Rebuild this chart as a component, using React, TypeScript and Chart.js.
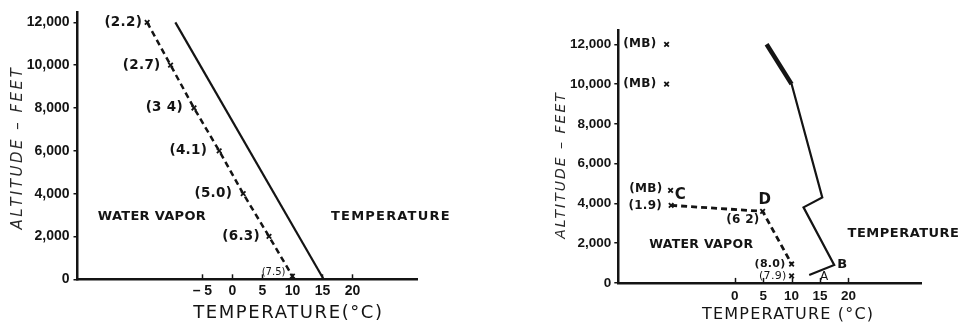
import React, { useEffect, useRef } from 'react';
import { Chart, registerables } from 'chart.js';

Chart.register(...registerables);

const INK = '#141414';
const TICK_FONT = 'Liberation Sans';
const LABEL_FONT = 'DejaVu Sans';

// ---------------- data ----------------
const altitudeTicks = [0, 2000, 4000, 6000, 8000, 10000, 12000];
const leftTempTicks = [-5, 0, 5, 10, 15, 20];
const rightTempTicks = [0, 5, 10, 15, 20];

// left figure
const leftVaporAltitudes = [12000, 10000, 8000, 6000, 4000, 2000, 150];
const leftVaporTemps = [-14.2, -10.3, -6.4, -2.2, 1.8, 6.1, 10.0];
const leftVaporLabels = ['(2.2)', '(2.7)', '(3 4)', '(4.1)', '(5.0)', '(6.3)', '(7.5)'];
const leftTempAltitudes = [12000, 0];
const leftTemps = [-9.5, 15.2];

// right figure
const rightTempAltitudes = [12000, 10000, 4300, 3800, 900, 400];
const rightTemps = [5.6, 10.0, 15.4, 12.1, 17.5, 13.1];
const rightVaporAltitudes = [3900, 3600, 950];
const rightVaporTemps = [-11.2, 4.9, 10.0];
const rightVaporLabels = ['(1.9)', '(6 2)', '(8.0)'];
const rightGroundVaporAltitudes = [350];
const rightGroundVaporTemps = [10.0];
const rightGroundVaporLabels = ['(7.9)'];
const mbAltitudes = [12000, 10000, 4650];
const mbTemps = [-12.0, -12.0, -11.3];
const mbLabels = ['(MB)', '(MB)', '(MB)'];

const toPoints = (xs: number[], ys: number[]) => xs.map((x, i) => ({ x, y: ys[i] }));

// ---------------- text plugin ----------------
const figTextPlugin = {
  id: 'figText',
  afterDraw(chart: any, _a: any, opts: any) {
    const { ctx } = chart;
    const xs = chart.scales.x;
    const ys = chart.scales.y;
    ctx.save();
    ctx.strokeStyle = INK;
    ctx.lineWidth = 1.5;
    for (const v of opts.xTicks || []) {
      const px = Math.round(xs.getPixelForValue(v)) + 0.5;
      ctx.beginPath();
      ctx.moveTo(px, xs.top);
      ctx.lineTo(px, xs.top - 5);
      ctx.stroke();
    }
    for (const it of opts.items || []) {
      ctx.save();
      ctx.font = it.font;
      ctx.fillStyle = it.color || INK;
      ctx.letterSpacing = `${it.ls || 0}px`;
      ctx.textAlign = it.align || 'center';
      ctx.textBaseline = 'middle';
      const px = xs.getPixelForValue(it.x) + (it.dx || 0);
      const py = ys.getPixelForValue(it.y) + (it.dy || 0);
      ctx.translate(px, py);
      if (it.rot) ctx.rotate(it.rot);
      ctx.fillText(it.text, 0, 0);
      ctx.restore();
    }
    ctx.restore();
  },
};

function buildOptions(p: any) {
  return {
    animation: false,
    responsive: false,
    maintainAspectRatio: false,
    events: [],
    layout: { padding: { left: 0, top: p.top, right: p.right, bottom: 0 } },
    plugins: {
      legend: { display: false },
      tooltip: { enabled: false },
      figText: { xTicks: p.xTicks, items: p.items },
    },
    scales: {
      x: {
        type: 'linear',
        position: 'bottom',
        min: p.xMin,
        max: p.xMax,
        afterBuildTicks: (s: any) => {
          s.ticks = p.xTicks.map((v: number) => ({ value: v }));
        },
        afterFit: (s: any) => {
          s.height = p.xHeight;
        },
        grid: { display: false, drawTicks: false, drawOnChartArea: false },
        border: { display: true, color: INK, width: 2.5 },
        ticks: {
          color: INK,
          font: { family: TICK_FONT, size: p.xTickSize, weight: 'bold' },
          padding: p.xPad,
          maxRotation: 0,
          autoSkip: false,
          callback: (v: number) => (v < 0 ? `– ${Math.abs(v)}` : `${v}`),
        },
      },
      y: {
        type: 'linear',
        min: 0,
        max: p.yMax,
        afterBuildTicks: (s: any) => {
          s.ticks = altitudeTicks.map((v) => ({ value: v }));
        },
        afterFit: (s: any) => {
          s.width = p.yWidth;
        },
        grid: { display: true, drawOnChartArea: false, drawTicks: true, tickLength: 4, color: INK, lineWidth: 1.5 },
        border: { display: true, color: INK, width: 2.5 },
        ticks: {
          color: INK,
          font: { family: TICK_FONT, size: p.yTickSize, weight: 'bold' },
          padding: p.yPad,
          callback: (v: number) => Number(v).toLocaleString('en-US'),
        },
      },
    },
  };
}

const crossStyle = {
  pointStyle: 'crossRot',
  pointRadius: 3.2,
  pointBorderWidth: 1.8,
  pointBorderColor: INK,
  pointBackgroundColor: INK,
};

function leftConfig(): any {
  const xMin = -25.8;
  const items: any[] = [];
  const dxs = [-5, -10, -11, -12, -11, -9, -7];
  leftVaporLabels.forEach((t, i) => {
    const last = i === leftVaporLabels.length - 1;
    items.push({
      text: t,
      x: leftVaporTemps[i],
      y: leftVaporAltitudes[i],
      dx: dxs[i],
      dy: last ? -4 : 0,
      align: 'right',
      font: last ? `10px ${LABEL_FONT}` : `bold 13.5px ${LABEL_FONT}`,
      ls: last ? 0 : 0.3,
    });
  });
  items.push({ text: 'WATER VAPOR', x: -13.4, y: 2930, font: `bold 13px ${LABEL_FONT}`, ls: 0.3 });
  items.push({ text: 'TEMPERATURE', x: 26.4, y: 2930, font: `bold 13px ${LABEL_FONT}`, ls: 1.2 });
  items.push({ text: 'TEMPERATURE(°C)', x: 9.33, y: 0, dy: 34, font: `18px ${LABEL_FONT}`, ls: 1.6 });
  items.push({
    text: 'ALTITUDE – FEET',
    x: xMin,
    y: 6150,
    dx: -59.2,
    rot: -Math.PI / 2,
    font: `italic 15px ${LABEL_FONT}`,
    ls: 2.5,
    color: '#2a2a2a',
  });
  return {
    type: 'scatter',
    data: {
      datasets: [
        {
          label: 'Temperature',
          data: toPoints(leftTemps, leftTempAltitudes),
          showLine: true,
          borderColor: INK,
          borderWidth: 2.2,
          pointRadius: 0,
          clip: false,
        },
        {
          label: 'Water vapor',
          data: toPoints(leftVaporTemps, leftVaporAltitudes),
          showLine: true,
          borderColor: INK,
          borderWidth: 2.5,
          borderDash: [6, 4],
          clip: false,
          ...crossStyle,
        },
      ],
    },
    options: buildOptions({
      top: 12.7,
      right: 62.7,
      xMin,
      xMax: 30.8,
      yMax: 12450,
      xHeight: 43.7,
      yWidth: 77.5,
      yPad: 4,
      xPad: 3,
      xTickSize: 14,
      yTickSize: 14,
      xTicks: leftTempTicks,
      items,
    }),
    plugins: [figTextPlugin],
  };
}

function rightConfig(): any {
  const xMin = -20.5;
  const items: any[] = [];
  mbLabels.forEach((t, i) => {
    items.push({
      text: t,
      x: mbTemps[i],
      y: mbAltitudes[i],
      dx: i === 2 ? -8 : -10,
      dy: i === 2 ? -2 : 0,
      align: 'right',
      font: `bold 12px ${LABEL_FONT}`,
      ls: 0.3,
    });
  });
  const vdx = [-9, -3, -6];
  const vdy = [1, 9, 0];
  rightVaporLabels.forEach((t, i) => {
    items.push({
      text: t,
      x: rightVaporTemps[i],
      y: rightVaporAltitudes[i],
      dx: vdx[i],
      dy: vdy[i],
      align: 'right',
      font: i === 2 ? `bold 11px ${LABEL_FONT}` : `bold 12px ${LABEL_FONT}`,
      ls: 0.3,
    });
  });
  rightGroundVaporLabels.forEach((t, i) => {
    items.push({
      text: t,
      x: rightGroundVaporTemps[i],
      y: rightGroundVaporAltitudes[i],
      dx: -5,
      align: 'right',
      font: `11px ${LABEL_FONT}`,
      ls: 0.3,
    });
  });
  items.push({ text: 'C', x: rightVaporTemps[0], y: rightVaporAltitudes[0], dx: 9, dy: -10, font: `bold 15px ${LABEL_FONT}` });
  items.push({ text: 'D', x: rightVaporTemps[1], y: rightVaporAltitudes[1], dx: 2, dy: -11, font: `bold 15px ${LABEL_FONT}` });
  items.push({ text: 'B', x: rightTemps[4], y: rightTempAltitudes[4], dx: 8, dy: 0, font: `bold 13px ${LABEL_FONT}` });
  items.push({ text: 'A', x: rightTemps[5], y: rightTempAltitudes[5], dx: 15, dy: 2, font: `12px ${LABEL_FONT}` });
  items.push({ text: 'WATER VAPOR', x: -5.9, y: 1906, font: `bold 12.5px ${LABEL_FONT}`, ls: 0.3 });
  items.push({ text: 'TEMPERATURE', x: 29.7, y: 2460, font: `bold 13px ${LABEL_FONT}`, ls: 0.5 });
  items.push({ text: 'TEMPERATURE (°C)', x: 9.4, y: 0, dy: 32, font: `16px ${LABEL_FONT}`, ls: 1.2 });
  items.push({
    text: 'ALTITUDE – FEET',
    x: xMin,
    y: 5930,
    dx: -56.6,
    rot: -Math.PI / 2,
    font: `italic 14px ${LABEL_FONT}`,
    ls: 2,
    color: '#2a2a2a',
  });
  return {
    type: 'scatter',
    data: {
      datasets: [
        {
          label: 'Temperature',
          data: toPoints(rightTemps, rightTempAltitudes),
          showLine: true,
          borderColor: INK,
          borderWidth: 2.2,
          segment: { borderWidth: (c: any) => (c.p0DataIndex === 0 ? 4.5 : 2.2) },
          pointRadius: 0,
          clip: false,
        },
        {
          label: 'Water vapor',
          data: toPoints(rightVaporTemps, rightVaporAltitudes),
          showLine: true,
          borderColor: INK,
          borderWidth: 2.8,
          borderDash: [6, 4],
          clip: false,
          ...crossStyle,
        },
        {
          label: 'Water vapor (ground)',
          data: toPoints(rightGroundVaporTemps, rightGroundVaporAltitudes),
          showLine: false,
          clip: false,
          ...crossStyle,
        },
        {
          label: 'MB',
          data: toPoints(mbTemps, mbAltitudes),
          showLine: false,
          clip: false,
          ...crossStyle,
        },
      ],
    },
    options: buildOptions({
      top: 30,
      right: 40.3,
      xMin,
      xMax: 32.9,
      yMax: 12720,
      xHeight: 40.1,
      yWidth: 138.3,
      yPad: 3,
      xPad: 5,
      xTickSize: 13.5,
      yTickSize: 13.5,
      xTicks: rightTempTicks,
      items,
    }),
    plugins: [figTextPlugin],
  };
}

function FigureCanvas({ left, width, height, make }: any) {
  const ref = useRef<HTMLCanvasElement>(null);
  useEffect(() => {
    const chart = new Chart(ref.current as HTMLCanvasElement, make());
    return () => chart.destroy();
  }, []);
  return (
    <canvas
      ref={ref}
      width={width}
      height={height}
      style={{ position: 'absolute', left, top: 0, width, height }}
    />
  );
}

export default function App() {
  return (
    <div style={{ position: 'fixed', left: 0, top: 0, width: 962, height: 323, background: '#fff', overflow: 'hidden' }}>
      <FigureCanvas left={0} width={480} height={323} make={leftConfig} />
      <FigureCanvas left={480} width={482} height={323} make={rightConfig} />
    </div>
  );
}
